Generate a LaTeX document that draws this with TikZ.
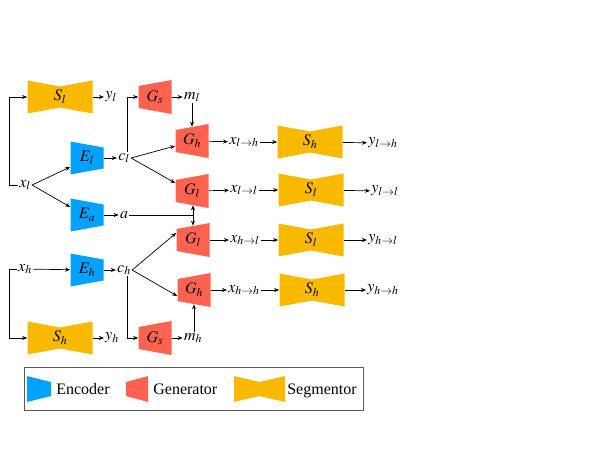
\documentclass[tikz,border=0pt]{standalone}
\usepackage{mathptmx}
\usepackage{fontspec}
\setmainfont{Liberation Serif}
\usetikzlibrary{arrows.meta}
\definecolor{encblue}{RGB}{0,162,255}
\definecolor{genred}{RGB}{255,99,80}
\definecolor{segyellow}{RGB}{248,185,0}
\tikzset{
	>={Stealth[length=5pt,width=4pt]},
	lbl/.style={inner sep=1pt},
	enc/.style={minimum width=33pt,minimum height=33pt,inner sep=0pt,
		path picture={\fill[encblue] (path picture bounding box.south west) -- (path picture bounding box.north west)
			-- ([yshift=-6pt]path picture bounding box.north east) -- ([yshift=6pt]path picture bounding box.south east) -- cycle;}},
	gen/.style={minimum width=33pt,minimum height=34pt,inner sep=0pt,
		path picture={\fill[genred] ([yshift=6pt]path picture bounding box.south west) -- ([yshift=-6pt]path picture bounding box.north west)
			-- (path picture bounding box.north east) -- (path picture bounding box.south east) -- cycle;}},
	seg/.style={minimum width=65pt,minimum height=33pt,inner sep=0pt,
		path picture={\fill[segyellow] (path picture bounding box.south west) -- (path picture bounding box.north west)
			-- ([yshift=-6pt]path picture bounding box.north) -- (path picture bounding box.north east)
			-- (path picture bounding box.south east) -- ([yshift=6pt]path picture bounding box.south) -- cycle;}}
}
\begin{document}
\begin{tikzpicture}[x=1pt,y=-1pt,font=\fontsize{16}{19}\selectfont,line width=0.7pt]
	\useasboundingbox (0,0) rectangle (597,448);
	% low resolution branch
	\node[lbl] (xl) at (25,185) {$x_l$};
	\node[seg] (Sl) at (60,97) {$S_l$};
	\node[lbl] (yl) at (111,97) {$y_l$};
	\node[enc] (El) at (87,158) {$E_l$};
	\node[enc] (Ea) at (87,215) {$E_a$};
	\node[lbl] (cl) at (124,158) {$c_l$};
	\node[lbl] (a) at (124,215) {$a$};
	\node[gen] (Gs1) at (155,97) {$G_s$};
	\node[lbl] (ml) at (192,97) {$m_l$};
	\node[gen] (Gh1) at (192,141) {$G_h$};
	\node[gen] (Gl2) at (192,191) {$G_l$};
	% high resolution branch
	\node[lbl] (xh) at (25,269) {$x_h$};
	\node[seg] (Sh5) at (60,338) {$S_h$};
	\node[lbl] (yh) at (112,338) {$y_h$};
	\node[enc] (Eh) at (87,270) {$E_h$};
	\node[lbl] (ch) at (124,270) {$c_h$};
	\node[gen] (Gs2) at (155,338) {$G_s$};
	\node[lbl] (mh) at (193,338) {$m_h$};
	\node[gen] (Gl3) at (193,240) {$G_l$};
	\node[gen] (Gh4) at (194,290) {$G_h$};
	% translated images and segmentors
	\node[lbl] (xlh) at (244,142) {$x_{l\to h}$};
	\node[lbl] (xll) at (244,190) {$x_{l\to l}$};
	\node[lbl] (xhl) at (245,240) {$x_{h\to l}$};
	\node[lbl] (xhh) at (244,290) {$x_{h\to h}$};
	\node[seg] (Sh1) at (310,142) {$S_h$};
	\node[seg] (Sl2) at (311,190) {$S_l$};
	\node[seg] (Sl3) at (311,240) {$S_l$};
	\node[seg] (Sh4) at (312,290) {$S_h$};
	\node[lbl] (ylh) at (383,143) {$y_{l\to h}$};
	\node[lbl] (yll) at (385,191) {$y_{l\to l}$};
	\node[lbl] (yhl) at (383,240) {$y_{h\to l}$};
	\node[lbl] (yhh) at (383,290) {$y_{h\to h}$};

	\draw[->] (xl.west) -- ++(-9,0) |- (Sl.west);
	\draw[->] (Sl) -- (yl);
	\draw[->] (xl.east) -- ([yshift=-9pt]El.west);
	\draw[->] (xl.east) -- ([yshift=8pt]Ea.west);
	\draw[->] (El) -- (cl);
	\draw[->] (Ea) -- (a);
	\draw[->] ([xshift=3pt]cl.north) |- (Gs1.west);
	\draw[->] (Gs1) -- (ml);
	\draw[->,shorten >=-3pt] (ml.south -| Gh1.north) -- (Gh1.north);
	\draw[->] (cl.east) -- ([yshift=-5pt]Gh1.west);
	\draw[->] (cl.east) -- ([yshift=8pt]Gl2.west);
	\draw (a.east) -- (a.east -| Gl3.north) coordinate (aj);
	\draw[->,shorten >=-3pt] (aj) -- (aj |- Gl2.south);
	\draw[->,shorten >=-3pt] (aj) -- (Gl3.north);

	\draw[->] (xh.west) -- ++(-8,0) |- (Sh5.west);
	\draw[->] (Sh5) -- (yh);
	\draw[->] (xh) -- (Eh);
	\draw[->] (Eh) -- (ch);
	\draw[->] ([xshift=3pt]ch.south) |- (Gs2.west);
	\draw[->] (Gs2) -- (mh);
	\draw[->,shorten >=-3pt] (mh.north -| Gh4.south) -- (Gh4.south);
	\draw[->] (ch.east) -- ([yshift=7pt]Gl3.west);
	\draw[->] (ch.east) -- ([yshift=-6pt]Gh4.west);

	\foreach \g/\x/\s/\y in {Gh1/xlh/Sh1/ylh,Gl2/xll/Sl2/yll,Gl3/xhl/Sl3/yhl,Gh4/xhh/Sh4/yhh}{
		\draw[->] (\g) -- (\x);
		\draw[->] (\x) -- (\s);
		\draw[->] (\s) -- (\y);
	}

	% legend
	\node[draw=black!65,line width=0.9pt,minimum width=339pt,minimum height=43pt] (legend) at (193.5,388.5) {};
	\node[enc,minimum width=24pt,minimum height=26pt] (encicon) at (39,389) {};
	\node[lbl,anchor=base west] (enctext) at (55,394.5) {Encoder};
	\node[gen,minimum width=22pt,minimum height=26pt] (genicon) at (137,389) {};
	\node[lbl,anchor=base west] (gentext) at (152,394.5) {Generator};
	\node[seg,minimum width=51pt,minimum height=26pt] (segicon) at (259.5,389) {};
	\node[lbl,anchor=base west] (segtext) at (286,394.5) {Segmentor};
\end{tikzpicture}
\end{document}
